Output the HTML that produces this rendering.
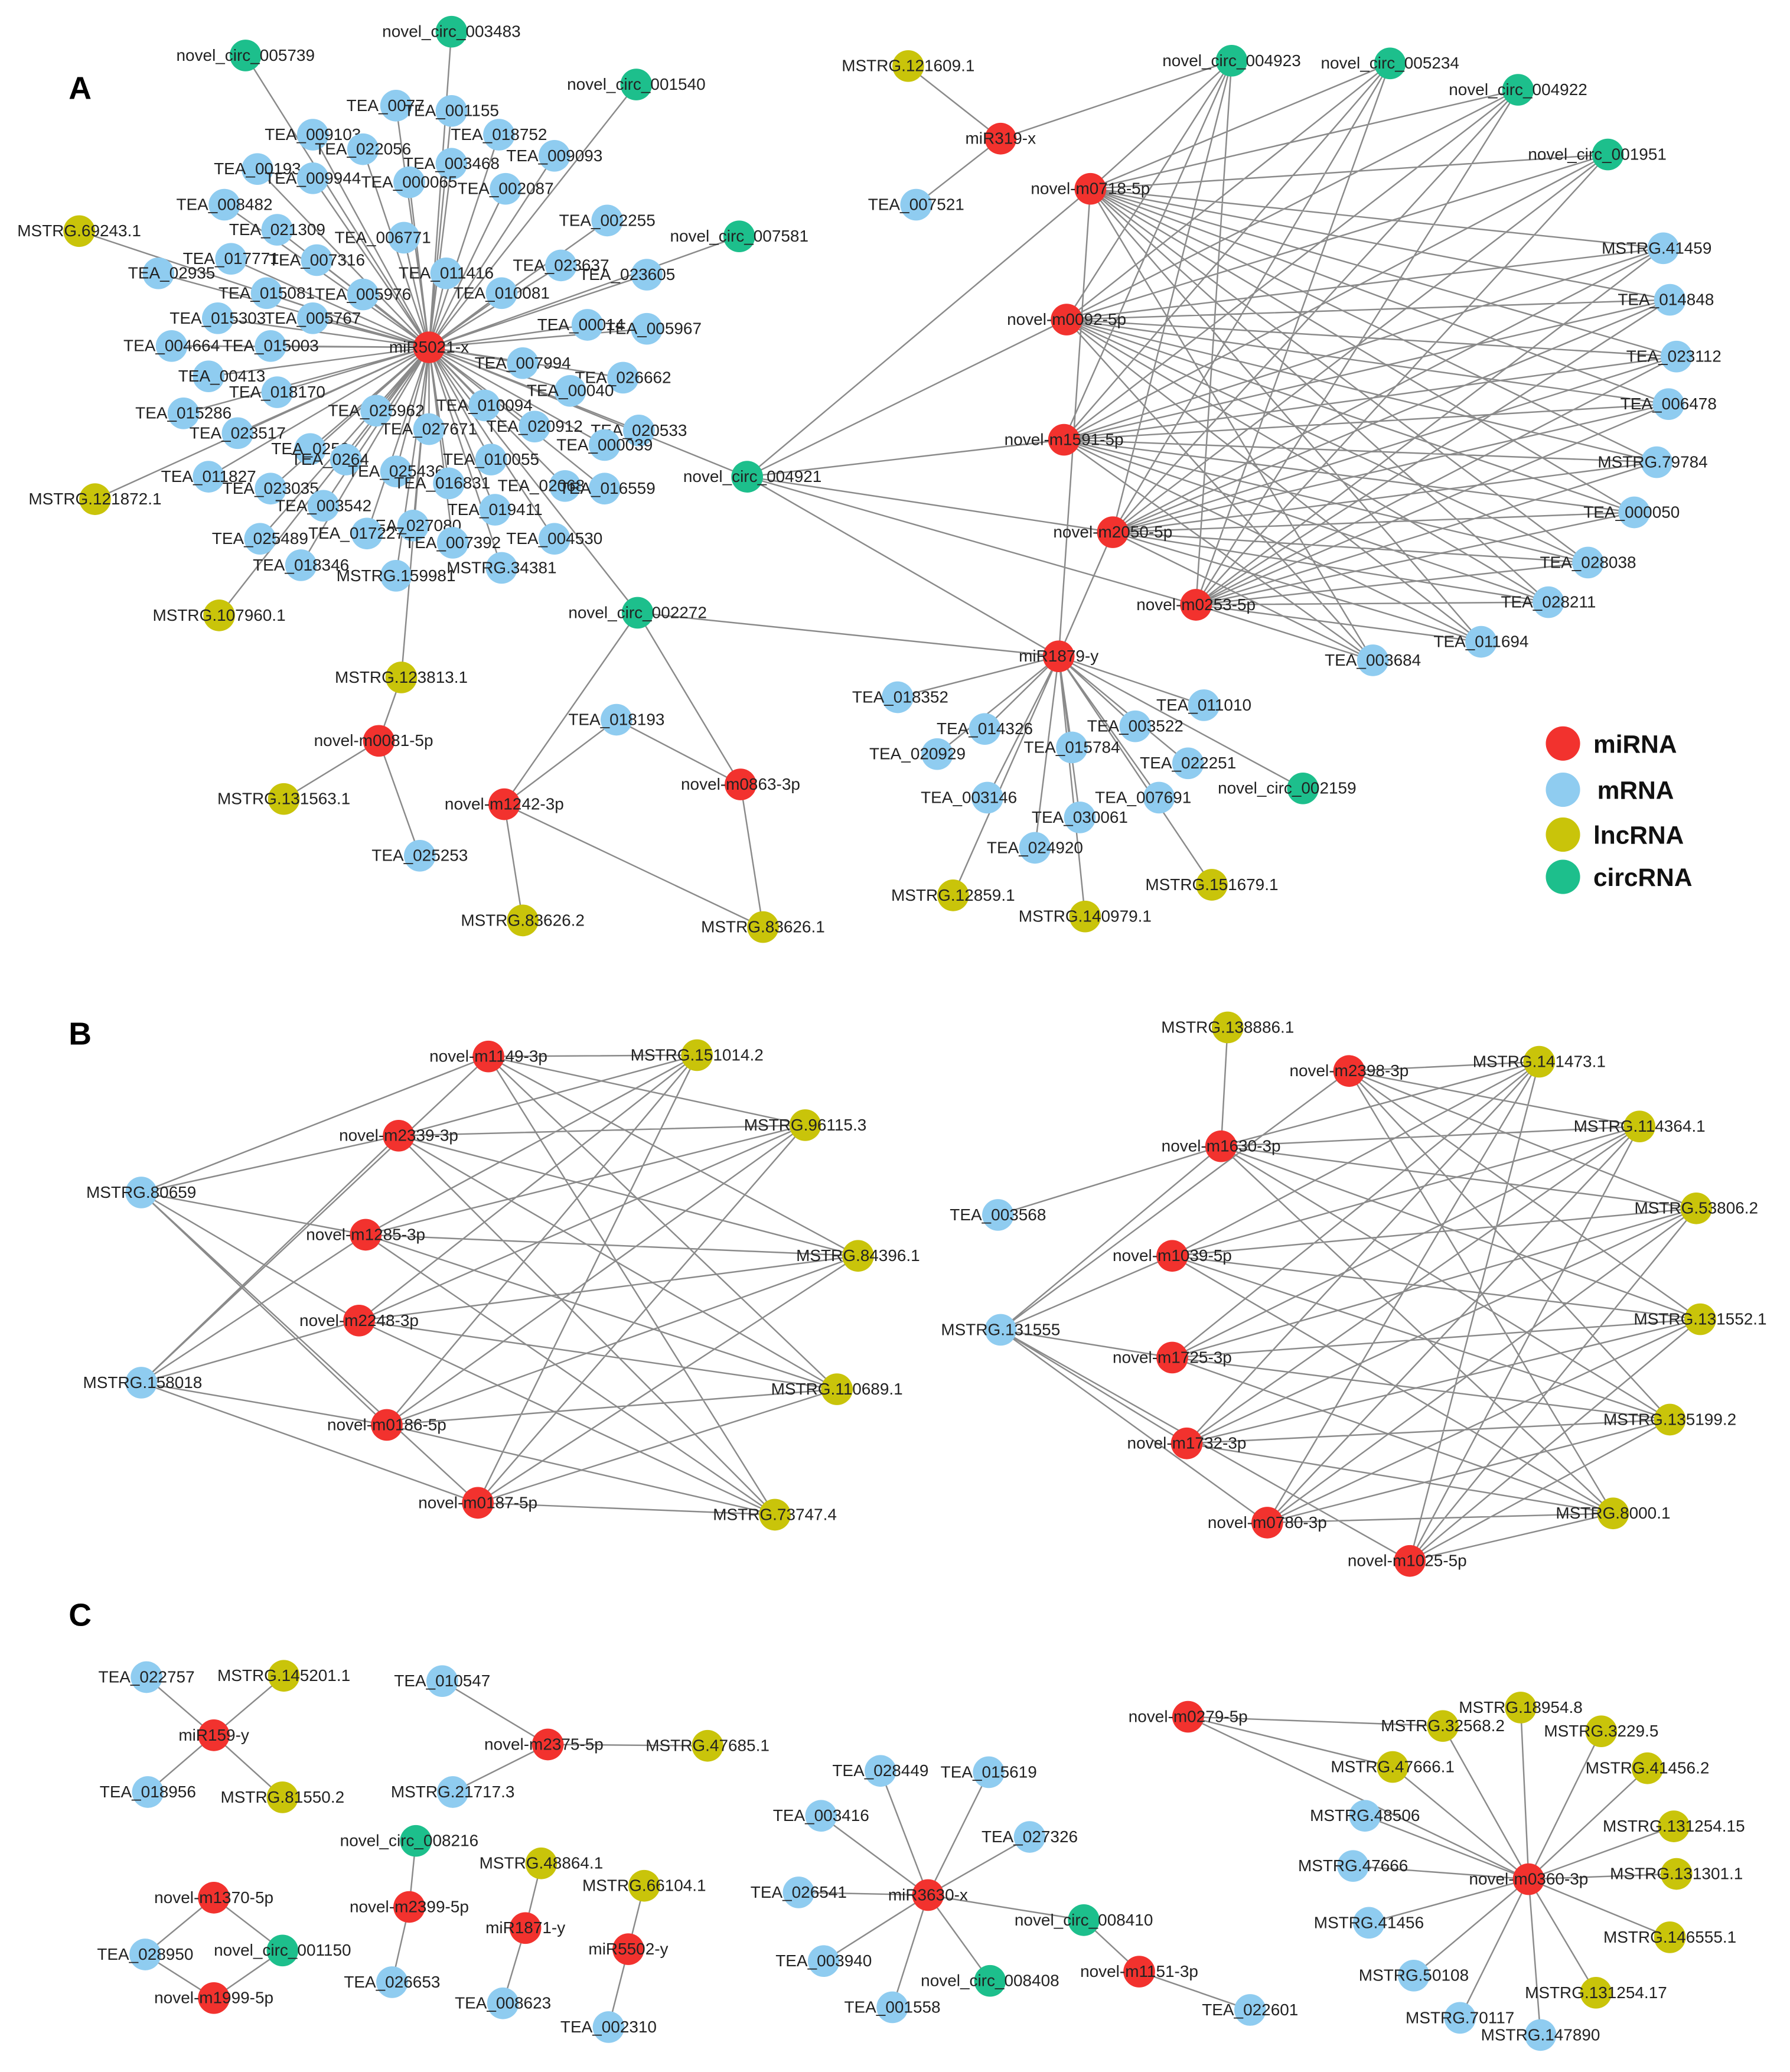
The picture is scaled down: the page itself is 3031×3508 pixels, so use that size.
<!DOCTYPE html>
<html><head><meta charset="utf-8">
<style>
html,body{margin:0;padding:0;background:#fff;}
svg{display:block;}
text{font-family:"Liberation Sans",Arial,sans-serif;font-size:12.5px;fill:#222;text-anchor:middle;}
.r{fill:#f2322e}.b{fill:#8fccf0}.y{fill:#c9c40a}.g{fill:#1dbf8c}
.P{font-size:24px;font-weight:bold;text-anchor:start;fill:#000}
.L{font-size:19px;font-weight:bold;text-anchor:start;fill:#111}
</style></head><body>
<svg id="s" width="3031" height="3508" viewBox="0 0 1356 1569" preserveAspectRatio="none" xmlns="http://www.w3.org/2000/svg">
<g id="E" stroke="#8a8a8a" stroke-width="1.1" fill="none"></g>
<g id="N">
<text class="P" x="52" y="75">A</text>
<text class="P" x="52" y="791">B</text>
<text class="P" x="52" y="1231">C</text>

<!-- Panel A left -->
<circle id="h1" class="r" cx="325" cy="263" r="12"/><text x="325" y="267">miR5021-x</text>
<circle id="c1" class="g hA" cx="186" cy="42" r="12"/><text x="186" y="46">novel_circ_005739</text>
<circle id="c2" class="g hA" cx="342" cy="24" r="12"/><text x="342" y="28">novel_circ_003483</text>
<circle id="c3" class="g hA" cx="482" cy="64" r="12"/><text x="482" y="68">novel_circ_001540</text>
<circle id="c4" class="g hA" cx="560" cy="179" r="12"/><text x="560" y="183">novel_circ_007581</text>
<circle class="y hA" cx="60" cy="175" r="12"/><text x="60" y="179">MSTRG.69243.1</text>
<circle class="y hA" cx="72" cy="378" r="12"/><text x="72" y="382">MSTRG.121872.1</text>
<circle class="y hA" cx="166" cy="466" r="12"/><text x="166" y="470">MSTRG.107960.1</text>
<circle id="y123" class="y hA" cx="304" cy="513" r="12"/><text x="304" y="517">MSTRG.123813.1</text>
<circle class="b hA" cx="237" cy="102" r="12"/><text x="237" y="106">TEA_009103</text>
<circle class="b hA" cx="300" cy="80" r="12"/><text x="292" y="84">TEA_0077</text>
<circle class="b hA" cx="342" cy="84" r="12"/><text x="342" y="88">TEA_001155</text>
<circle class="b hA" cx="378" cy="102" r="12"/><text x="378" y="106">TEA_018752</text>
<circle class="b hA" cx="275" cy="113" r="12"/><text x="275" y="117">TEA_022056</text>
<circle class="b hA" cx="420" cy="118" r="12"/><text x="420" y="122">TEA_009093</text>
<circle class="b hA" cx="342" cy="124" r="12"/><text x="342" y="128">TEA_003468</text>
<circle class="b hA" cx="195" cy="128" r="12"/><text x="195" y="132">TEA_00193</text>
<circle class="b hA" cx="237" cy="135" r="12"/><text x="237" y="139">TEA_009944</text>
<circle class="b hA" cx="310" cy="138" r="12"/><text x="310" y="142">TEA_000065</text>
<circle class="b hA" cx="383" cy="143" r="12"/><text x="383" y="147">TEA_002087</text>
<circle class="b hA" cx="170" cy="155" r="12"/><text x="170" y="159">TEA_008482</text>
<circle class="b hA" cx="460" cy="167" r="12"/><text x="460" y="171">TEA_002255</text>
<circle class="b hA" cx="210" cy="174" r="12"/><text x="210" y="178">TEA_021309</text>
<circle class="b hA" cx="306" cy="180" r="12"/><text x="290" y="184">TEA_006771</text>
<circle class="b hA" cx="175" cy="196" r="12"/><text x="175" y="200">TEA_017771</text>
<circle class="b hA" cx="240" cy="197" r="12"/><text x="240" y="201">TEA_007316</text>
<circle class="b hA" cx="425" cy="201" r="12"/><text x="425" y="205">TEA_023637</text>
<circle class="b hA" cx="490" cy="208" r="12"/><text x="475" y="212">TEA_023605</text>
<circle class="b hA" cx="120" cy="207" r="12"/><text x="130" y="211">TEA_02935</text>
<circle class="b hA" cx="338" cy="207" r="12"/><text x="338" y="211">TEA_011416</text>
<circle class="b hA" cx="202" cy="222" r="12"/><text x="202" y="226">TEA_015081</text>
<circle class="b hA" cx="275" cy="223" r="12"/><text x="275" y="227">TEA_005976</text>
<circle class="b hA" cx="380" cy="222" r="12"/><text x="380" y="226">TEA_010081</text>
<circle class="b hA" cx="165" cy="241" r="12"/><text x="165" y="245">TEA_015303</text>
<circle class="b hA" cx="237" cy="241" r="12"/><text x="237" y="245">TEA_005767</text>
<circle class="b hA" cx="445" cy="246" r="12"/><text x="440" y="250">TEA_00014</text>
<circle class="b hA" cx="490" cy="249" r="12"/><text x="495" y="253">TEA_005967</text>
<circle class="b hA" cx="130" cy="262" r="12"/><text x="130" y="266">TEA_004664</text>
<circle class="b hA" cx="205" cy="262" r="12"/><text x="205" y="266">TEA_015003</text>
<circle class="b hA" cx="396" cy="275" r="12"/><text x="396" y="279">TEA_007994</text>
<circle class="b hA" cx="158" cy="285" r="12"/><text x="168" y="289">TEA_00413</text>
<circle class="b hA" cx="472" cy="286" r="12"/><text x="472" y="290">TEA_026662</text>
<circle class="b hA" cx="210" cy="297" r="12"/><text x="210" y="301">TEA_018170</text>
<circle class="b hA" cx="432" cy="296" r="12"/><text x="432" y="300">TEA_00040</text>
<circle class="b hA" cx="367" cy="307" r="12"/><text x="367" y="311">TEA_010094</text>
<circle class="b hA" cx="139" cy="313" r="12"/><text x="139" y="317">TEA_015286</text>
<circle class="b hA" cx="285" cy="311" r="12"/><text x="285" y="315">TEA_025962</text>
<circle class="b hA" cx="180" cy="328" r="12"/><text x="180" y="332">TEA_023517</text>
<circle class="b hA" cx="325" cy="325" r="12"/><text x="325" y="329">TEA_027671</text>
<circle class="b hA" cx="405" cy="323" r="12"/><text x="405" y="327">TEA_020912</text>
<circle class="b hA" cx="484" cy="326" r="12"/><text x="484" y="330">TEA_020533</text>
<circle class="b hA" cx="235" cy="340" r="12"/><text x="235" y="344">TEA_0252</text>
<circle class="b hA" cx="458" cy="337" r="12"/><text x="458" y="341">TEA_000039</text>
<circle class="b hA" cx="262" cy="348" r="12"/><text x="250" y="352">TEA_0264</text>
<circle class="b hA" cx="158" cy="361" r="12"/><text x="158" y="365">TEA_011827</text>
<circle class="b hA" cx="300" cy="357" r="12"/><text x="300" y="361">TEA_025436</text>
<circle class="b hA" cx="372" cy="348" r="12"/><text x="372" y="352">TEA_010055</text>
<circle class="b hA" cx="205" cy="370" r="12"/><text x="205" y="374">TEA_023035</text>
<circle class="b hA" cx="340" cy="366" r="12"/><text x="335" y="370">TEA_016831</text>
<circle class="b hA" cx="428" cy="368" r="12"/><text x="410" y="372">TEA_02068</text>
<circle class="b hA" cx="458" cy="370" r="12"/><text x="460" y="374">TEA_016559</text>
<circle class="b hA" cx="245" cy="383" r="12"/><text x="245" y="387">TEA_003542</text>
<circle class="b hA" cx="375" cy="386" r="12"/><text x="375" y="390">TEA_019411</text>
<circle class="b hA" cx="313" cy="398" r="12"/><text x="313" y="402">TEA_027080</text>
<circle class="b hA" cx="197" cy="408" r="12"/><text x="197" y="412">TEA_025489</text>
<circle class="b hA" cx="278" cy="404" r="12"/><text x="270" y="408">TEA_017227</text>
<circle class="b hA" cx="343" cy="411" r="12"/><text x="343" y="415">TEA_007392</text>
<circle class="b hA" cx="420" cy="408" r="12"/><text x="420" y="412">TEA_004530</text>
<circle class="b hA" cx="228" cy="428" r="12"/><text x="228" y="432">TEA_018346</text>
<circle class="b hA" cx="300" cy="436" r="12"/><text x="300" y="440">MSTRG.159981</text>
<circle class="b hA" cx="380" cy="430" r="12"/><text x="380" y="434">MSTRG.34381</text>
<circle id="c21" class="g hA" cx="566" cy="361" r="12"/><text x="570" y="365">novel_circ_004921</text>
<circle id="c22" class="g hA" cx="483" cy="464" r="12"/><text x="483" y="468">novel_circ_002272</text>

<circle id="m81" class="r" cx="287" cy="561" r="12"/><text x="283" y="565">novel-m0081-5p</text>
<circle id="y131" class="y" cx="215" cy="605" r="12"/><text x="215" y="609">MSTRG.131563.1</text>
<circle id="t253" class="b" cx="318" cy="648" r="12"/><text x="318" y="652">TEA_025253</text>
<circle id="m1242" class="r" cx="382" cy="609" r="12"/><text x="382" y="613">novel-m1242-3p</text>
<circle id="m863" class="r" cx="561" cy="594" r="12"/><text x="561" y="598">novel-m0863-3p</text>
<circle id="t193" class="b" cx="467" cy="545" r="12"/><text x="467" y="549">TEA_018193</text>
<circle id="y836" class="y" cx="396" cy="697" r="12"/><text x="396" y="701">MSTRG.83626.2</text>
<circle id="y831" class="y" cx="578" cy="702" r="12"/><text x="578" y="706">MSTRG.83626.1</text>

<!-- Panel A right -->
<circle id="m319" class="r" cx="758" cy="105" r="12"/><text x="758" y="109">miR319-x</text>
<circle id="y1216" class="y" cx="688" cy="50" r="12"/><text x="688" y="54">MSTRG.121609.1</text>
<circle id="t521" class="b" cx="694" cy="155" r="12"/><text x="694" y="159">TEA_007521</text>
<circle class="r R5" cx="826" cy="143" r="12"/><text x="826" y="147">novel-m0718-5p</text>
<circle class="r R5" cx="808" cy="242" r="12"/><text x="808" y="246">novel-m0092-5p</text>
<circle class="r R5" cx="806" cy="333" r="12"/><text x="806" y="337">novel-m1591-5p</text>
<circle class="r R5" cx="843" cy="403" r="12"/><text x="843" y="407">novel-m2050-5p</text>
<circle class="r R5" cx="906" cy="458" r="12"/><text x="906" y="462">novel-m0253-5p</text>
<circle id="c923" class="g T5" cx="933" cy="46" r="12"/><text x="933" y="50">novel_circ_004923</text>
<circle class="g T5" cx="1053" cy="48" r="12"/><text x="1053" y="52">novel_circ_005234</text>
<circle class="g T5" cx="1150" cy="68" r="12"/><text x="1150" y="72">novel_circ_004922</text>
<circle class="g T5" cx="1218" cy="117" r="12"/><text x="1210" y="121">novel_circ_001951</text>
<circle class="b T5" cx="1260" cy="188" r="12"/><text x="1255" y="192">MSTRG.41459</text>
<circle class="b T5" cx="1265" cy="227" r="12"/><text x="1262" y="231">TEA_014848</text>
<circle class="b T5" cx="1270" cy="270" r="12"/><text x="1268" y="274">TEA_023112</text>
<circle class="b T5" cx="1264" cy="306" r="12"/><text x="1264" y="310">TEA_006478</text>
<circle class="b T5" cx="1255" cy="350" r="12"/><text x="1252" y="354">MSTRG.79784</text>
<circle class="b T5" cx="1238" cy="388" r="12"/><text x="1236" y="392">TEA_000050</text>
<circle class="b T5" cx="1203" cy="426" r="12"/><text x="1203" y="430">TEA_028038</text>
<circle class="b T5" cx="1173" cy="456" r="12"/><text x="1173" y="460">TEA_028211</text>
<circle class="b T5" cx="1122" cy="486" r="12"/><text x="1122" y="490">TEA_011694</text>
<circle class="b T5" cx="1040" cy="500" r="12"/><text x="1040" y="504">TEA_003684</text>
<circle id="m1879" class="r" cx="802" cy="497" r="12"/><text x="802" y="501">miR1879-y</text>
<circle class="b S" cx="680" cy="528" r="12"/><text x="682" y="532">TEA_018352</text>
<circle class="b S" cx="746" cy="552" r="12"/><text x="746" y="556">TEA_014326</text>
<circle class="b S" cx="912" cy="534" r="12"/><text x="912" y="538">TEA_011010</text>
<circle class="b S" cx="860" cy="550" r="12"/><text x="860" y="554">TEA_003522</text>
<circle class="b S" cx="710" cy="571" r="12"/><text x="695" y="575">TEA_020929</text>
<circle class="b S" cx="812" cy="566" r="12"/><text x="812" y="570">TEA_015784</text>
<circle class="b S" cx="900" cy="578" r="12"/><text x="900" y="582">TEA_022251</text>
<circle class="g S" cx="987" cy="597" r="12"/><text x="975" y="601">novel_circ_002159</text>
<circle class="b S" cx="748" cy="604" r="12"/><text x="734" y="608">TEA_003146</text>
<circle class="b S" cx="878" cy="604" r="12"/><text x="866" y="608">TEA_007691</text>
<circle class="b S" cx="818" cy="619" r="12"/><text x="818" y="623">TEA_030061</text>
<circle class="b S" cx="784" cy="642" r="12"/><text x="784" y="646">TEA_024920</text>
<circle class="y S" cx="722" cy="678" r="12"/><text x="722" y="682">MSTRG.12859.1</text>
<circle class="y S" cx="918" cy="670" r="12"/><text x="918" y="674">MSTRG.151679.1</text>
<circle class="y S" cx="822" cy="694" r="12"/><text x="822" y="698">MSTRG.140979.1</text>

<!-- Legend -->
<circle class="r" cx="1184" cy="563" r="13"/><text class="L" x="1207" y="570">miRNA</text>
<circle class="b" cx="1184" cy="598" r="13"/><text class="L" x="1210" y="605">mRNA</text>
<circle class="y" cx="1184" cy="632" r="13"/><text class="L" x="1207" y="639">lncRNA</text>
<circle class="g" cx="1184" cy="664" r="13"/><text class="L" x="1207" y="671">circRNA</text>

<!-- Panel B left -->
<circle class="r BL" cx="370" cy="800" r="12"/><text x="370" y="804">novel-m1149-3p</text>
<circle class="r BL" cx="302" cy="860" r="12"/><text x="302" y="864">novel-m2339-3p</text>
<circle class="r BL" cx="277" cy="935" r="12"/><text x="277" y="939">novel-m1285-3p</text>
<circle class="r BL" cx="272" cy="1000" r="12"/><text x="272" y="1004">novel-m2248-3p</text>
<circle class="r BL" cx="293" cy="1079" r="12"/><text x="293" y="1083">novel-m0186-5p</text>
<circle class="r BL" cx="362" cy="1138" r="12"/><text x="362" y="1142">novel-m0187-5p</text>
<circle class="b BLb" cx="107" cy="903" r="12"/><text x="107" y="907">MSTRG.80659</text>
<circle class="b BLb" cx="107" cy="1047" r="12"/><text x="108" y="1051">MSTRG.158018</text>
<circle class="y BLy" cx="528" cy="799" r="12"/><text x="528" y="803">MSTRG.151014.2</text>
<circle class="y BLy" cx="610" cy="852" r="12"/><text x="610" y="856">MSTRG.96115.3</text>
<circle class="y BLy" cx="650" cy="951" r="12"/><text x="650" y="955">MSTRG.84396.1</text>
<circle class="y BLy" cx="634" cy="1052" r="12"/><text x="634" y="1056">MSTRG.110689.1</text>
<circle class="y BLy" cx="587" cy="1147" r="12"/><text x="587" y="1151">MSTRG.73747.4</text>

<!-- Panel B right -->
<circle class="r BR" cx="1022" cy="811" r="12"/><text x="1022" y="815">novel-m2398-3p</text>
<circle id="m1630" class="r BR" cx="925" cy="868" r="12"/><text x="925" y="872">novel-m1630-3p</text>
<circle class="r BR" cx="888" cy="951" r="12"/><text x="888" y="955">novel-m1039-5p</text>
<circle class="r BR" cx="888" cy="1028" r="12"/><text x="888" y="1032">novel-m1725-3p</text>
<circle class="r BR" cx="899" cy="1093" r="12"/><text x="899" y="1097">novel-m1732-3p</text>
<circle class="r BR" cx="960" cy="1153" r="12"/><text x="960" y="1157">novel-m0780-3p</text>
<circle class="r BR" cx="1068" cy="1182" r="12"/><text x="1066" y="1186">novel-m1025-5p</text>
<circle id="y1388" class="y" cx="930" cy="778" r="12"/><text x="930" y="782">MSTRG.138886.1</text>
<circle class="y BRy" cx="1166" cy="804" r="12"/><text x="1166" y="808">MSTRG.141473.1</text>
<circle class="y BRy" cx="1242" cy="853" r="12"/><text x="1242" y="857">MSTRG.114364.1</text>
<circle class="y BRy" cx="1285" cy="915" r="12"/><text x="1285" y="919">MSTRG.53806.2</text>
<circle class="y BRy" cx="1288" cy="999" r="12"/><text x="1288" y="1003">MSTRG.131552.1</text>
<circle class="y BRy" cx="1265" cy="1075" r="12"/><text x="1265" y="1079">MSTRG.135199.2</text>
<circle class="y BRy" cx="1222" cy="1146" r="12"/><text x="1222" y="1150">MSTRG.8000.1</text>
<circle id="t3568" class="b" cx="756" cy="920" r="12"/><text x="756" y="924">TEA_003568</text>
<circle id="m131555" class="b" cx="758" cy="1007" r="12"/><text x="758" y="1011">MSTRG.131555</text>

<!-- Panel C -->
<circle id="q159" class="r" cx="162" cy="1314" r="12"/><text x="162" y="1318">miR159-y</text>
<circle class="b q159" cx="111" cy="1270" r="12"/><text x="111" y="1274">TEA_022757</text>
<circle class="y q159" cx="215" cy="1269" r="12"/><text x="215" y="1273">MSTRG.145201.1</text>
<circle class="b q159" cx="112" cy="1357" r="12"/><text x="112" y="1361">TEA_018956</text>
<circle class="y q159" cx="214" cy="1361" r="12"/><text x="214" y="1365">MSTRG.81550.2</text>
<circle id="q2375" class="r" cx="415" cy="1321" r="12"/><text x="412" y="1325">novel-m2375-5p</text>
<circle class="b q2375" cx="335" cy="1273" r="12"/><text x="335" y="1277">TEA_010547</text>
<circle class="y q2375" cx="536" cy="1322" r="12"/><text x="536" y="1326">MSTRG.47685.1</text>
<circle class="b q2375" cx="343" cy="1357" r="12"/><text x="343" y="1361">MSTRG.21717.3</text>
<circle id="q1370" class="r" cx="162" cy="1437" r="12"/><text x="162" y="1441">novel-m1370-5p</text>
<circle id="q1999" class="r" cx="162" cy="1513" r="12"/><text x="162" y="1517">novel-m1999-5p</text>
<circle id="q28950" class="b" cx="110" cy="1480" r="12"/><text x="110" y="1484">TEA_028950</text>
<circle id="q1150" class="g" cx="214" cy="1477" r="12"/><text x="214" y="1481">novel_circ_001150</text>
<circle id="q2399" class="r" cx="310" cy="1444" r="12"/><text x="310" y="1448">novel-m2399-5p</text>
<circle class="g q2399" cx="315" cy="1394" r="12"/><text x="310" y="1398">novel_circ_008216</text>
<circle class="b q2399" cx="297" cy="1501" r="12"/><text x="297" y="1505">TEA_026653</text>
<circle id="q1871" class="r" cx="398" cy="1460" r="12"/><text x="398" y="1464">miR1871-y</text>
<circle class="y q1871" cx="410" cy="1411" r="12"/><text x="410" y="1415">MSTRG.48864.1</text>
<circle class="b q1871" cx="381" cy="1517" r="12"/><text x="381" y="1521">TEA_008623</text>
<circle id="q5502" class="r" cx="476" cy="1476" r="12"/><text x="476" y="1480">miR5502-y</text>
<circle class="y q5502" cx="488" cy="1428" r="12"/><text x="488" y="1432">MSTRG.66104.1</text>
<circle class="b q5502" cx="461" cy="1535" r="12"/><text x="461" y="1539">TEA_002310</text>
<circle id="q3630" class="r" cx="703" cy="1435" r="12"/><text x="703" y="1439">miR3630-x</text>
<circle class="b q3630" cx="667" cy="1341" r="12"/><text x="667" y="1345">TEA_028449</text>
<circle class="b q3630" cx="749" cy="1342" r="12"/><text x="749" y="1346">TEA_015619</text>
<circle class="b q3630" cx="622" cy="1375" r="12"/><text x="622" y="1379">TEA_003416</text>
<circle class="b q3630" cx="780" cy="1391" r="12"/><text x="780" y="1395">TEA_027326</text>
<circle class="b q3630" cx="605" cy="1433" r="12"/><text x="605" y="1437">TEA_026541</text>
<circle id="q8410" class="g q3630" cx="821" cy="1454" r="12"/><text x="821" y="1458">novel_circ_008410</text>
<circle class="b q3630" cx="624" cy="1485" r="12"/><text x="624" y="1489">TEA_003940</text>
<circle class="g q3630" cx="750" cy="1500" r="12"/><text x="750" y="1504">novel_circ_008408</text>
<circle class="b q3630" cx="676" cy="1520" r="12"/><text x="676" y="1524">TEA_001558</text>
<circle id="q1151" class="r" cx="863" cy="1493" r="12"/><text x="863" y="1497">novel-m1151-3p</text>
<circle id="q22601" class="b" cx="947" cy="1522" r="12"/><text x="947" y="1526">TEA_022601</text>
<circle id="q360" class="r" cx="1158" cy="1423" r="12"/><text x="1158" y="1427">novel-m0360-3p</text>
<circle id="q279" class="r q360" cx="900" cy="1300" r="12"/><text x="900" y="1304">novel-m0279-5p</text>
<circle id="q32568" class="y q360" cx="1093" cy="1307" r="12"/><text x="1093" y="1311">MSTRG.32568.2</text>
<circle class="y q360" cx="1152" cy="1293" r="12"/><text x="1152" y="1297">MSTRG.18954.8</text>
<circle class="y q360" cx="1213" cy="1311" r="12"/><text x="1213" y="1315">MSTRG.3229.5</text>
<circle id="q47666" class="y q360" cx="1055" cy="1338" r="12"/><text x="1055" y="1342">MSTRG.47666.1</text>
<circle class="y q360" cx="1248" cy="1339" r="12"/><text x="1248" y="1343">MSTRG.41456.2</text>
<circle class="b q360" cx="1034" cy="1375" r="12"/><text x="1034" y="1379">MSTRG.48506</text>
<circle class="y q360" cx="1268" cy="1383" r="12"/><text x="1268" y="1387">MSTRG.131254.15</text>
<circle class="b q360" cx="1025" cy="1413" r="12"/><text x="1025" y="1417">MSTRG.47666</text>
<circle class="y q360" cx="1270" cy="1419" r="12"/><text x="1270" y="1423">MSTRG.131301.1</text>
<circle class="b q360" cx="1037" cy="1456" r="12"/><text x="1037" y="1460">MSTRG.41456</text>
<circle class="y q360" cx="1265" cy="1467" r="12"/><text x="1265" y="1471">MSTRG.146555.1</text>
<circle class="b q360" cx="1071" cy="1496" r="12"/><text x="1071" y="1500">MSTRG.50108</text>
<circle class="y q360" cx="1209" cy="1509" r="12"/><text x="1209" y="1513">MSTRG.131254.17</text>
<circle class="b q360" cx="1106" cy="1528" r="12"/><text x="1106" y="1532">MSTRG.70117</text>
<circle class="b q360" cx="1167" cy="1541" r="12"/><text x="1167" y="1545">MSTRG.147890</text>
</g>
<script>
(function(){
var E=document.getElementById('E'),d='';
function p(a){return [a.getAttribute('cx'),a.getAttribute('cy')];}
function ln(a,b){var A=p(a),B=p(b);d+='M'+A[0]+' '+A[1]+'L'+B[0]+' '+B[1];}
function id(x){return document.getElementById(x);}
function all(c){return Array.prototype.slice.call(document.querySelectorAll('.'+c));}
function hub(h,c){all(c).forEach(function(n){ln(id(h),n);});}
function bip(a,b){all(a).forEach(function(x){all(b).forEach(function(y){ln(x,y);});});}
hub('h1','hA');
[['m81','y123'],['m81','y131'],['m81','t253'],['c22','m1879'],['c22','m1242'],['c22','m863'],
['m1242','t193'],['m863','t193'],['m1242','y836'],['m1242','y831'],['m863','y831'],
['m319','y1216'],['m319','t521'],['m319','c923'],['c21','m1879'],
['m1630','y1388'],['m1630','t3568'],
['q1370','q28950'],['q1370','q1150'],['q1999','q28950'],['q1999','q1150'],
['q8410','q1151'],['q1151','q22601'],['q279','q32568'],['q279','q47666']
].forEach(function(e){ln(id(e[0]),id(e[1]));});
bip('R5','T5');
all('R5').forEach(function(n){ln(id('c21'),n);});
ln(id('m1879'),all('R5')[3]);ln(id('m1879'),all('R5')[0]);
hub('m1879','S');
bip('BL','BLy');bip('BLb','BL');
bip('BR','BRy');hub('m131555','BR');
['q159','q2375','q2399','q1871','q5502','q3630','q360'].forEach(function(h){hub(h,h);});
var path=document.createElementNS('http://www.w3.org/2000/svg','path');
path.setAttribute('d',d);E.appendChild(path);
})();
</script>
</svg>
</body></html>
